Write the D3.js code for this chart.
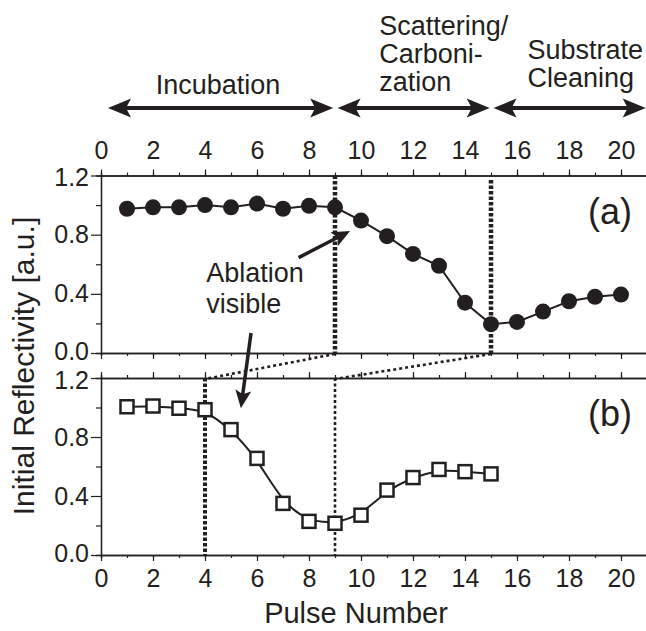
<!DOCTYPE html>
<html>
<head>
<meta charset="utf-8">
<script src="https://d3js.org/d3.v7.min.js"></script>
<style>
  body { margin: 0; background: #fff; }
  svg { display: block; font-family: "Liberation Sans", Arial, sans-serif; }
  text { fill: #231f20; }
</style>
</head>
<body>
<div id="chart"></div>
<script>
var svgWidth = 646;
var svgHeight = 631;
var ink = "#231f20";

// pulse numbers and reflectivity
var pulsesA = [1,2,3,4,5,6,7,8,9,10,11,12,13,14,15,16,17,18,19,20];
var reflA = [0.975,0.985,0.985,1.0,0.985,1.01,0.975,0.995,0.985,0.895,0.79,0.67,0.59,0.34,0.195,0.21,0.28,0.35,0.38,0.395];

var pulsesB = [1,2,3,4,5,6,7,8,9,10,11,12,13,14,15];
var reflB = [1.005,1.01,0.995,0.985,0.85,0.655,0.35,0.228,0.215,0.27,0.44,0.525,0.58,0.565,0.55];

var xTicks = [0,2,4,6,8,10,12,14,16,18,20];
var yTicks = [0.0,0.4,0.8,1.2];

// phase arrows across the top
var phaseLabels = [["Incubation"], ["Scattering/", "Carboni-", "zation"], ["Substrate", "Cleaning"]];
var phaseFrom = [0.27, 9.1, 15.1];
var phaseTo = [8.93, 14.95, 20.95];

// marker lines (pulse numbers)
var markA = [9, 15];
var markB = [4, 9];

var svg = d3.select("#chart")
  .append("svg")
  .attr("width", svgWidth)
  .attr("height", svgHeight);

var x = d3.scaleLinear().domain([0, 21]).range([101, 647]);
var yA = d3.scaleLinear().domain([0, 1.2]).range([353, 175.5]);
var yB = d3.scaleLinear().domain([0, 1.2]).range([555, 378]);

var minorX = d3.range(0, 21, 1);
var minorY = [0.2, 0.6, 1.0];

function drawPanel(y, topLabels, bottomLabels, nudge) {
  var g = svg.append("g");
  var y0 = y.range()[0], y1 = y.range()[1];

  // top axis
  g.append("g").attr("transform", `translate(0,${y1})`)
    .call(d3.axisTop(x).tickValues(minorX).tickSize(3).tickFormat(""));
  g.append("g")
    .attr("transform", `translate(0,${y1})`)
    .call(d3.axisTop(x).tickValues(xTicks).tickSize(6).tickSizeOuter(0).tickPadding(11)
      .tickFormat(topLabels ? d3.format("d") : ""));

  // bottom axis
  g.append("g").attr("transform", `translate(0,${y0})`)
    .call(d3.axisBottom(x).tickValues(minorX).tickSize(3).tickFormat(""));
  g.append("g").attr("transform", `translate(0,${y0})`)
    .call(d3.axisBottom(x).tickValues(xTicks).tickSize(6).tickSizeOuter(0).tickPadding(8)
      .tickFormat(bottomLabels ? d3.format("d") : ""));

  // left axis
  g.append("g").attr("transform", `translate(${x(0)},0)`)
    .call(d3.axisLeft(y).tickValues(minorY).tickSize(5).tickFormat(""));
  var left = g.append("g").attr("transform", `translate(${x(0)},0)`)
    .call(d3.axisLeft(y).tickValues(yTicks).tickSize(10).tickSizeOuter(0).tickPadding(2)
      .tickFormat(d3.format(".1f")));
  // keep the stacked 0.0 / 1.2 labels between the panels apart
  left.selectAll(".tick text").attr("y", d => (d === 0 ? -nudge : d === 1.2 ? nudge : 0));

  g.selectAll(".domain").attr("stroke", ink).attr("stroke-width", 1.3);
  g.selectAll(".tick line").attr("stroke", ink).attr("stroke-width", 1.2);
  g.selectAll(".tick text").attr("fill", ink).style("font-size", "25px")
    .style("font-family", "'Liberation Sans', Arial, sans-serif");
  return g;
}

drawPanel(yA, true, false, 2);
drawPanel(yB, false, true, 2);

// dotted guide lines
svg.append("line")
  .attr("x1", x(markA[0])).attr("x2", x(markA[0]))
  .attr("y1", yA(1.2)).attr("y2", yA(0))
  .attr("stroke", ink).attr("stroke-width", 4.5).attr("stroke-dasharray", "3.5,2");
svg.append("line")
  .attr("x1", x(markA[1])).attr("x2", x(markA[1]))
  .attr("y1", yA(1.17)).attr("y2", yA(0))
  .attr("stroke", ink).attr("stroke-width", 4.5).attr("stroke-dasharray", "3.5,2");
svg.append("line")
  .attr("x1", x(markB[0])).attr("x2", x(markB[0]))
  .attr("y1", yB(1.2)).attr("y2", yB(0))
  .attr("stroke", ink).attr("stroke-width", 4).attr("stroke-dasharray", "3.5,2");
svg.append("line")
  .attr("x1", x(markB[1])).attr("x2", x(markB[1]))
  .attr("y1", yB(1.2)).attr("y2", yB(0))
  .attr("stroke", ink).attr("stroke-width", 2.6).attr("stroke-dasharray", "3,2.5");

// slanted connectors between the panels
for (var i = 0; i < 2; i++) {
  svg.append("line")
    .attr("x1", x(markA[i])).attr("y1", yA(0) + 1)
    .attr("x2", x(markB[i])).attr("y2", yB(1.2) + 1)
    .attr("stroke", ink).attr("stroke-width", 2.6).attr("stroke-dasharray", "3,3");
}

// panel (a) series
svg.append("path")
  .datum(pulsesA)
  .attr("fill", "none").attr("stroke", ink).attr("stroke-width", 2)
  .attr("d", d3.line().x(d => x(d)).y((d, i) => yA(reflA[i])));

svg.selectAll("circle.a")
  .data(pulsesA)
  .enter()
  .append("circle")
  .attr("cx", d => x(d))
  .attr("cy", (d, i) => yA(reflA[i]))
  .attr("r", 8)
  .attr("fill", ink);

// panel (b) series, smooth fit
svg.append("path")
  .datum(pulsesB)
  .attr("fill", "none").attr("stroke", ink).attr("stroke-width", 2)
  .attr("d", d3.line().curve(d3.curveBasis).x(d => x(d)).y((d, i) => yB(reflB[i])));

svg.selectAll("rect.b")
  .data(pulsesB)
  .enter()
  .append("rect")
  .attr("x", d => x(d) - 6.5)
  .attr("y", (d, i) => yB(reflB[i]) - 6.5)
  .attr("width", 13).attr("height", 13)
  .attr("fill", "#fff").attr("stroke", ink).attr("stroke-width", 2.5);

// panel labels
svg.append("text").attr("x", 610).attr("y", yA(1.2) + 48)
  .attr("text-anchor", "middle").style("font-size", "36px").text("(a)");
svg.append("text").attr("x", 610).attr("y", yB(1.2) + 48)
  .attr("text-anchor", "middle").style("font-size", "36px").text("(b)");

// axis titles
svg.append("text")
  .attr("transform", "translate(34, 366) rotate(-90)")
  .attr("text-anchor", "middle")
  .style("font-size", "30px")
  .text("Initial Reflectivity  [a.u.]");

svg.append("text")
  .attr("x", 356).attr("y", 623)
  .attr("text-anchor", "middle")
  .style("font-size", "29px")
  .text("Pulse Number");

// arrowheads
function head(px, py, angle, len, half) {
  var c = Math.cos(angle), s = Math.sin(angle);
  var pts = [[0, 0], [-len, -half], [-len * 0.78, 0], [-len, half]];
  return "M" + pts.map(p => [px + p[0] * c - p[1] * s, py + p[0] * s + p[1] * c].join(",")).join("L") + "Z";
}

// phase arrows
var arrowY = 108;
phaseFrom.forEach(function(f, i) {
  var x1 = x(f), x2 = x(phaseTo[i]);
  svg.append("line")
    .attr("x1", x1 + 10).attr("x2", x2 - 10)
    .attr("y1", arrowY).attr("y2", arrowY)
    .attr("stroke", ink).attr("stroke-width", 4);
  svg.append("path").attr("d", head(x2, arrowY, 0, 23, 9.5)).attr("fill", ink);
  svg.append("path").attr("d", head(x1, arrowY, Math.PI, 23, 9.5)).attr("fill", ink);
});

// phase labels
var phaseText = [
  {x: 4.5, y: 94, anchor: "middle"},
  {x: 10.7, y: 35, anchor: "start"},
  {x: 16.4, y: 59, anchor: "start"}
];
phaseLabels.forEach(function(lines, i) {
  var t = svg.append("text")
    .attr("x", x(phaseText[i].x)).attr("y", phaseText[i].y)
    .attr("text-anchor", phaseText[i].anchor)
    .style("font-size", "27px");
  lines.forEach(function(s, j) {
    t.append("tspan").attr("x", x(phaseText[i].x)).attr("dy", j ? 28 : 0).text(s);
  });
});

// "Ablation visible" note with two arrows
var note = svg.append("text")
  .attr("x", x(4.05)).attr("y", yA(0.48))
  .style("font-size", "27px");
note.append("tspan").attr("x", x(4.05)).text("Ablation");
note.append("tspan").attr("x", x(4.05)).attr("dy", 31).text("visible");

function arrow(xa, ya, xb, yb) {
  var ang = Math.atan2(yb - ya, xb - xa);
  svg.append("line")
    .attr("x1", xa).attr("y1", ya)
    .attr("x2", xb - 12 * Math.cos(ang)).attr("y2", yb - 12 * Math.sin(ang))
    .attr("stroke", ink).attr("stroke-width", 3.5);
  svg.append("path").attr("d", head(xb, yb, ang, 18, 8)).attr("fill", ink);
}
arrow(x(7.6), yA(0.645), x(9.58), yA(0.825));
arrow(x(5.77), yA(0.135), x(5.38), yB(0.995));
</script>
</body>
</html>
